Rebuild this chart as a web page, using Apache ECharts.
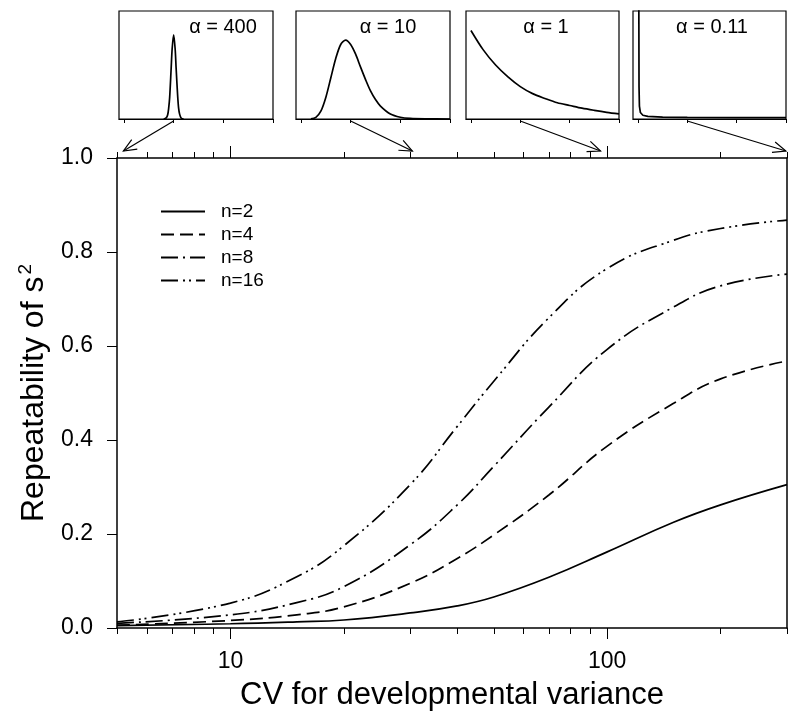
<!DOCTYPE html>
<html>
<head>
<meta charset="utf-8">
<script src="https://cdn.jsdelivr.net/npm/echarts@6/dist/echarts.min.js"></script>
<style>
html, body { margin: 0; padding: 0; background: #fff; }
#main { width: 789px; height: 717px; }
</style>
</head>
<body>
<div id="main"></div>
<script>
// main chart: repeatability vs CV (log axis)
var cv = [5, 10, 15, 20, 30, 40, 50, 70, 100, 150, 200, 300];
var rep2 = [0.005, 0.009, 0.013, 0.017, 0.032, 0.047, 0.066, 0.108, 0.162, 0.225, 0.262, 0.305];
var rep4 = [0.006, 0.016, 0.028, 0.045, 0.095, 0.148, 0.198, 0.283, 0.387, 0.478, 0.530, 0.568];
var rep8 = [0.010, 0.028, 0.054, 0.088, 0.177, 0.262, 0.344, 0.470, 0.593, 0.683, 0.728, 0.753];
var rep16 = [0.013, 0.053, 0.109, 0.175, 0.305, 0.429, 0.525, 0.660, 0.765, 0.825, 0.850, 0.868];
var seriesNames = ['n=2', 'n=4', 'n=8', 'n=16'];
var minorCV = [5, 6, 7, 8, 9, 10, 20, 30, 40, 50, 60, 70, 80, 90, 100, 200, 300];
var majorCV = [10, 100];

// insets: shape of the distribution for a few alpha values
var alphaNames = ['α = 400', 'α = 10', 'α = 1', 'α = 0.11'];
var alphaCV = [5.2, 30.4, 96, 298];   // where each arrow points on the top axis
var insetTicks = [0, 1, 2, 3];
var in1x = [0.8, 0.85, 0.88, 0.9, 0.92, 0.95, 0.97, 1.0, 1.03, 1.05, 1.08, 1.1, 1.12, 1.15, 1.2];
var in1y = [0, 0.01, 0.04, 0.1, 0.2, 0.47, 0.65, 0.78, 0.65, 0.47, 0.22, 0.1, 0.045, 0.01, 0];
var in2x = [0.2, 0.3, 0.4, 0.5, 0.6, 0.7, 0.8, 0.9, 1.0, 1.1, 1.2, 1.3, 1.4, 1.5, 1.6, 1.8, 2.0, 2.2, 2.5, 3];
var in2y = [0.001, 0.015, 0.072, 0.2, 0.38, 0.56, 0.69, 0.73, 0.69, 0.6, 0.48, 0.365, 0.26, 0.18, 0.12, 0.046, 0.016, 0.005, 0.001, 0];
var in3x = [0, 0.25, 0.5, 0.75, 1, 1.25, 1.5, 1.75, 2, 2.25, 2.5, 2.75, 3];
var in3y = [0.82, 0.64, 0.50, 0.39, 0.30, 0.235, 0.19, 0.15, 0.125, 0.1, 0.08, 0.062, 0.047];
var in4x = [0.018, 0.022, 0.03, 0.05, 0.1, 0.2, 0.5, 1, 2, 3];
var in4y = [1.1, 0.3, 0.12, 0.06, 0.035, 0.024, 0.018, 0.015, 0.013, 0.012];

var FONT = '"Liberation Sans", Arial, Helvetica, sans-serif';
var lo = Math.log10(5), hi = Math.log10(300);

function pairs(xs, ys) {
    return xs.map(function(v, i) { return [v, ys[i]]; });
}

// value axes laid over the log axis, only to draw 2..9 style ticks
function tickAxis(pos, vals, len, labels) {
    return {
        type: 'value', gridIndex: 0, position: pos, min: lo, max: hi,
        axisLine: { show: false, onZero: false },
        axisTick: { show: true, length: len, customValues: vals.map(Math.log10),
            lineStyle: { color: '#000', width: 1 } },
        axisLabel: labels ? {
            show: true, customValues: vals.map(Math.log10), margin: 22,
            fontSize: 23, color: '#000', fontFamily: FONT,
            formatter: function(v) { return String(Math.round(Math.pow(10, v))); }
        } : { show: false },
        splitLine: { show: false }
    };
}

var insetGrids = [
    { left: 119, top: 11, width: 154, height: 108 },
    { left: 296, top: 11, width: 154, height: 108 },
    { left: 466, top: 11, width: 153, height: 108 },
    { left: 633, top: 11, width: 153, height: 108 }
];
var insetData = [pairs(in1x, in1y), pairs(in2x, in2y), pairs(in3x, in3y), pairs(in4x, in4y)];

var grids = [{ left: 117, right: 2, top: 158, bottom: 89 }];
var xAxes = [
    { type: 'log', logBase: 10, gridIndex: 0, position: 'bottom', min: 5, max: 300,
      axisLine: { show: true, onZero: false, lineStyle: { color: '#000', width: 1.5 } },
      axisTick: { show: false }, axisLabel: { show: false }, splitLine: { show: false },
      name: 'CV for developmental variance', nameLocation: 'middle', nameGap: 52,
      nameTextStyle: { fontSize: 31, color: '#000', fontFamily: FONT } },
    tickAxis('bottom', minorCV, 6, false),
    tickAxis('bottom', majorCV, 11, true),
    tickAxis('top', minorCV, 6, false),
    tickAxis('top', majorCV, 12, false)
];
xAxes[3].axisLine = { show: true, onZero: false, lineStyle: { color: '#000', width: 1.5 } };

var yAxes = [
    { type: 'value', gridIndex: 0, position: 'left', min: 0, max: 1, interval: 0.2,
      axisLine: { show: true, onZero: false, lineStyle: { color: '#000', width: 1.5 } },
      axisTick: { show: true, length: 10, lineStyle: { color: '#000' } },
      axisLabel: { margin: 24, fontSize: 23, color: '#000', fontFamily: FONT,
        formatter: function(v) { return v.toFixed(1); } },
      splitLine: { show: false },
      name: 'Repeatability of s{sup|2}', nameLocation: 'middle', nameGap: 64,
      nameTextStyle: { fontSize: 32, color: '#000', fontFamily: FONT,
        rich: { sup: { fontSize: 19, fontFamily: FONT, color: '#000', verticalAlign: 'top', padding: [0, 0, 16, 2] } } } },
    { type: 'value', gridIndex: 0, position: 'right', min: 0, max: 1,
      axisLine: { show: true, onZero: false, lineStyle: { color: '#000', width: 1.5 } },
      axisTick: { show: false }, axisLabel: { show: false }, splitLine: { show: false } }
];

var dashes = ['solid', [13, 6], [17, 5, 2, 5], [17, 5, 2, 4, 2, 5]];
var repData = [rep2, rep4, rep8, rep16];
var series = repData.map(function(d, i) {
    return {
        name: seriesNames[i], type: 'line', xAxisIndex: 0, yAxisIndex: 0,
        data: pairs(cv, d), showSymbol: false, symbol: 'none',
        smooth: 0.45,
        itemStyle: { color: '#000' },
        lineStyle: { color: '#000', width: 1.7, type: dashes[i] }
    };
});

insetGrids.forEach(function(g, k) {
    grids.push({ left: g.left, top: g.top, width: g.width, height: g.height,
        show: true, borderColor: '#000', borderWidth: 1.2, backgroundColor: '#fff' });
    xAxes.push({ type: 'value', gridIndex: k + 1, min: -0.1, max: 3,
        axisLine: { show: true, onZero: false, lineStyle: { color: '#000', width: 1.2 } },
        axisTick: { show: true, length: 4, customValues: insetTicks, lineStyle: { color: '#000' } },
        axisLabel: { show: false }, splitLine: { show: false } });
    yAxes.push({ type: 'value', gridIndex: k + 1, min: 0, max: 1, show: false, splitLine: { show: false } });
    series.push({ type: 'line', xAxisIndex: k + 5, yAxisIndex: k + 2, data: insetData[k],
        showSymbol: false, symbol: 'none', smooth: k === 3 ? false : 0.3, clip: true,
        lineStyle: { color: '#000', width: 1.7 } });
});

var chart = echarts.init(document.getElementById('main'), null, { renderer: 'canvas' });
chart.setOption({
    backgroundColor: '#fff',
    animation: false,
    grid: grids,
    xAxis: xAxes,
    yAxis: yAxes,
    legend: {
        data: seriesNames, orient: 'vertical', left: 155, top: 197,
        itemWidth: 44, itemHeight: 14, itemGap: 4,
        itemStyle: { opacity: 0 },
        textStyle: { fontSize: 19, color: '#000', fontFamily: FONT, padding: [0, 0, 0, 11] }
    },
    series: series
});

// arrows from inset (tick "1") to the CV on the top axis, alpha labels in boxes
var labelPos = [[223, 27], [388, 27], [546, 27], [712, 27]];
var graphics = [];
alphaCV.forEach(function(c, k) {
    var s = chart.convertToPixel({ xAxisIndex: k + 5, yAxisIndex: k + 2 }, [1, 0]);
    var e = chart.convertToPixel({ xAxisIndex: 0, yAxisIndex: 0 }, [c, 1]);
    s = [s[0], s[1] + 2];
    e = [e[0], e[1] - 7];
    var ang = Math.atan2(e[1] - s[1], e[0] - s[0]);
    var hl = 14, ha = 0.4;
    var p1 = [e[0] - hl * Math.cos(ang - ha), e[1] - hl * Math.sin(ang - ha)];
    var p2 = [e[0] - hl * Math.cos(ang + ha), e[1] - hl * Math.sin(ang + ha)];
    graphics.push({ type: 'line', shape: { x1: s[0], y1: s[1], x2: e[0], y2: e[1] },
        style: { stroke: '#000', lineWidth: 1.2 } });
    graphics.push({ type: 'polyline', shape: { points: [p1, e, p2] },
        style: { stroke: '#000', lineWidth: 1.2, fill: null } });
    graphics.push({ type: 'text', x: labelPos[k][0], y: labelPos[k][1],
        style: { text: alphaNames[k], align: 'center', verticalAlign: 'middle',
            font: '20px ' + FONT, fill: '#000' } });
});
chart.setOption({ graphic: graphics });
</script>
</body>
</html>
